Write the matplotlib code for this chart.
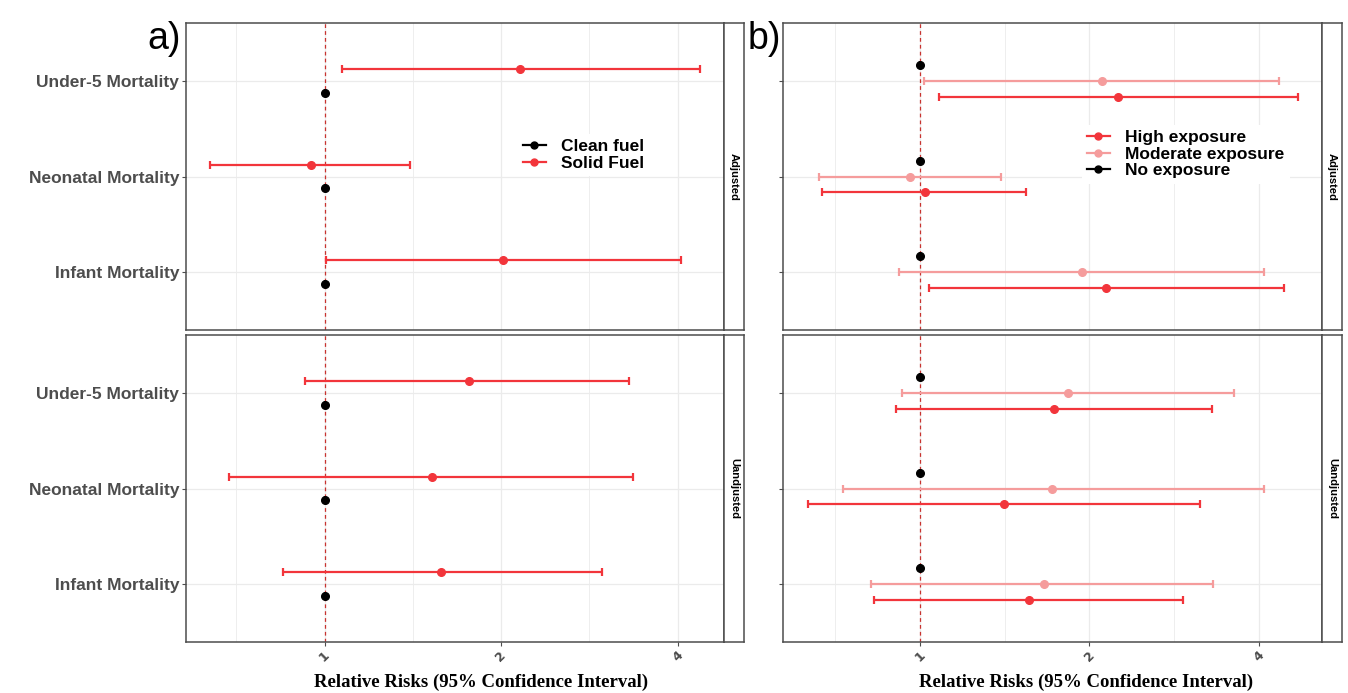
import numpy as np
import matplotlib
matplotlib.use('Agg')
import matplotlib.pyplot as plt
from matplotlib.lines import Line2D
from matplotlib.ticker import NullFormatter

# outcomes, bottom to top
outcomes = ['Infant Mortality', 'Neonatal Mortality', 'Under-5 Mortality']
strips = ['Adjusted', 'Uandjusted']

# panel a) solid fuel vs clean fuel (reference)
solid_adj_rr = [2.016, 0.949, 2.158]
solid_adj_lo = [1.007, 0.639, 1.069]
solid_adj_hi = [4.05, 1.399, 4.36]
solid_unadj_rr = [1.582, 1.525, 1.765]
solid_unadj_lo = [0.848, 0.688, 0.928]
solid_unadj_hi = [2.97, 3.36, 3.31]
clean_rr = [1.0, 1.0, 1.0]

# panel b) high / moderate / no exposure (reference)
high_adj_rr = [2.14, 1.02, 2.25]
high_adj_lo = [1.039, 0.669, 1.079]
high_adj_hi = [4.43, 1.545, 4.69]
mod_adj_rr = [1.94, 0.961, 2.11]
mod_adj_lo = [0.919, 0.661, 1.018]
mod_adj_hi = [4.09, 1.393, 4.35]
high_unadj_rr = [1.56, 1.41, 1.73]
high_unadj_lo = [0.828, 0.631, 0.908]
high_unadj_hi = [2.94, 3.15, 3.30]
mod_unadj_rr = [1.66, 1.715, 1.83]
mod_unadj_lo = [0.819, 0.730, 0.928]
mod_unadj_hi = [3.32, 4.09, 3.61]
none_rr = [1.0, 1.0, 1.0]

RED = '#F2353B'
PINK = '#F59C9C'
BLACK = '#000000'
GRID = '#EBEBEB'
BORDER = '#4D4D4D'

W, H = 1348, 693
fig = plt.figure(figsize=(W / 100, H / 100), dpi=100)


def box(x0, y0, x1, y1):
    return [x0 / W, 1 - y1 / H, (x1 - x0) / W, (y1 - y0) / H]


def xlim_from(groups):
    vals = np.log2(np.concatenate([np.asarray(g, float) for g in groups]))
    lo, hi = vals.min(), vals.max()
    pad = 0.05 * (hi - lo)
    return 2 ** (lo - pad), 2 ** (hi + pad)


def draw_series(ax, rr, lo, hi, off, color):
    y = np.arange(1, 4) + off
    rr = np.asarray(rr); lo = np.asarray(lo); hi = np.asarray(hi)
    ax.errorbar(rr, y, xerr=[rr - lo, hi - rr], fmt='o', color=color, ms=5.5,
                elinewidth=1.6, capsize=2.6, capthick=1.6, zorder=3)


def style_axis(ax, xlim, show_y, show_x):
    ax.set_xscale('log', base=2)
    ax.set_xlim(*xlim)
    ax.set_ylim(0.4, 3.6)
    ax.set_xticks([1, 2, 4])
    ax.set_xticks([2 ** -0.5, 2 ** 0.5, 2 ** 1.5], minor=True)
    ax.xaxis.set_minor_formatter(NullFormatter())
    ax.set_yticks([1, 2, 3])
    ax.grid(True, which='major', color=GRID, lw=0.9, zorder=0)
    ax.grid(True, which='minor', axis='x', color=GRID, lw=0.6, zorder=0)
    ax.set_axisbelow(True)
    ax.axvline(1, color='#C8332F', lw=0.9, ls=(0, (3, 2.5)), zorder=2)
    for s in ax.spines.values():
        s.set_color(BORDER)
        s.set_linewidth(1.1)
    ax.tick_params(axis='x', which='minor', length=0)
    if show_x:
        ax.set_xticklabels(['1', '2', '4'], rotation=45, fontsize=9,
                           color='#4D4D4D', fontweight='bold')
        ax.tick_params(axis='x', which='major', length=3, color=BORDER, pad=2)
    else:
        ax.tick_params(axis='x', which='major', length=0, labelbottom=False)
    if show_y:
        ax.set_yticklabels(outcomes, fontsize=12.5, fontweight='bold',
                           color='#4D4D4D', family='Liberation Sans')
        ax.tick_params(axis='y', length=3, color=BORDER, pad=2)
    else:
        ax.tick_params(axis='y', length=3, color=BORDER, labelleft=False)


def strip(x0, x1, y0, y1, label):
    sa = fig.add_axes(box(x0, y0, x1, y1))
    sa.set_xticks([]); sa.set_yticks([])
    for s in sa.spines.values():
        s.set_color(BORDER)
        s.set_linewidth(1.1)
    sa.text(0.5, 0.5, label, rotation=-90, ha='center', va='center',
            fontsize=8, fontweight='bold', family='Liberation Sans',
            transform=sa.transAxes)


def add_legend(ax, handles, labels, x, y):
    leg = ax.legend(handles, labels, loc='upper left',
                    bbox_to_anchor=(x / W, 1 - y / H),
                    bbox_transform=fig.transFigure, frameon=True,
                    prop={'family': 'Liberation Sans', 'weight': 'bold', 'size': 12.5},
                    handlelength=1.3, handletextpad=0.9, labelspacing=0.08,
                    borderpad=0.3, borderaxespad=0, fancybox=False)
    leg.get_frame().set_edgecolor('none')
    leg.get_frame().set_facecolor('white')
    leg.get_frame().set_alpha(1)


rows = [(23, 330), (335, 642)]

# ---------- panel a ----------
xa = xlim_from([solid_adj_lo, solid_adj_hi, solid_unadj_lo, solid_unadj_hi])
a_data = [(solid_adj_rr, solid_adj_lo, solid_adj_hi),
          (solid_unadj_rr, solid_unadj_lo, solid_unadj_hi)]
for i, (y0, y1) in enumerate(rows):
    ax = fig.add_axes(box(186, y0, 724, y1))
    rr, lo, hi = a_data[i]
    draw_series(ax, clean_rr, clean_rr, clean_rr, -0.125, BLACK)
    draw_series(ax, rr, lo, hi, 0.125, RED)
    style_axis(ax, xa, True, i == 1)
    strip(724, 744, y0, y1, strips[i])
    if i == 0:
        handles = [Line2D([], [], color=BLACK, marker='o', ms=5, lw=1.6),
                   Line2D([], [], color=RED, marker='o', ms=5, lw=1.6)]
        add_legend(ax, handles, ['Clean fuel', 'Solid Fuel'], 518, 134)

# ---------- panel b ----------
xb = xlim_from([high_adj_lo, high_adj_hi, mod_adj_lo, mod_adj_hi,
                high_unadj_lo, high_unadj_hi, mod_unadj_lo, mod_unadj_hi])
b_data = [((high_adj_rr, high_adj_lo, high_adj_hi), (mod_adj_rr, mod_adj_lo, mod_adj_hi)),
          ((high_unadj_rr, high_unadj_lo, high_unadj_hi), (mod_unadj_rr, mod_unadj_lo, mod_unadj_hi))]
for i, (y0, y1) in enumerate(rows):
    ax = fig.add_axes(box(783, y0, 1322, y1))
    high, mod = b_data[i]
    draw_series(ax, high[0], high[1], high[2], -1 / 6, RED)
    draw_series(ax, mod[0], mod[1], mod[2], 0, PINK)
    draw_series(ax, none_rr, none_rr, none_rr, 1 / 6, BLACK)
    style_axis(ax, xb, False, i == 1)
    strip(1322, 1342, y0, y1, strips[i])
    if i == 0:
        handles = [Line2D([], [], color=RED, marker='o', ms=5, lw=1.6),
                   Line2D([], [], color=PINK, marker='o', ms=5, lw=1.6),
                   Line2D([], [], color=BLACK, marker='o', ms=5, lw=1.6)]
        add_legend(ax, handles, ['High exposure', 'Moderate exposure', 'No exposure'],
                   1082, 125)

# axis titles and panel tags
for cx in (481, 1086):
    fig.text(cx / W, 1 - 682 / H, 'Relative Risks (95% Confidence Interval)',
             ha='center', va='center', fontsize=13.5, fontweight='bold',
             family='Liberation Serif')
fig.text(147 / W, 1 - 49 / H, 'a)', fontsize=27, family='Liberation Sans',
         ha='left', va='baseline')
fig.text(748 / W, 1 - 49 / H, 'b)', fontsize=27, family='Liberation Sans',
         ha='left', va='baseline')

fig.savefig('out.png', dpi=100)
